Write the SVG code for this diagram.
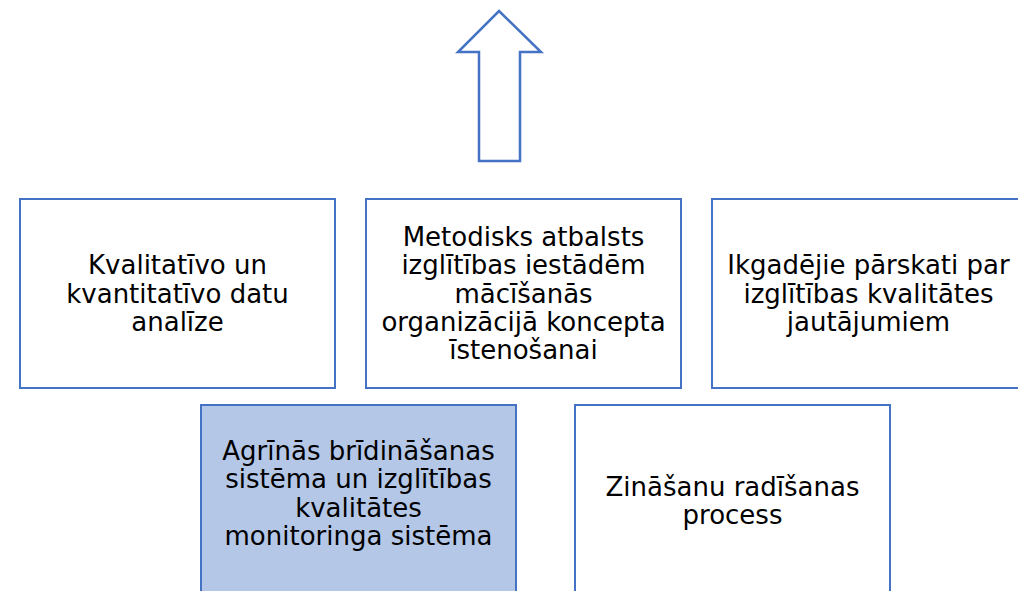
<svg xmlns="http://www.w3.org/2000/svg" width="1018" height="591" viewBox="0 0 1018 591">
<style>
.box{fill:#ffffff;stroke:#4472C4;stroke-width:2}
.hl{fill:#B4C7E7}
.t{font-family:"DejaVu Sans",Verdana,sans-serif;font-size:26px;fill:#000;text-anchor:middle}
</style>
<rect width="1018" height="591" fill="#ffffff"/>
<g id="connectors">
<polygon points="499,11 541,52 520,52 520,161 479,161 479,52 458,52" fill="#ffffff" stroke="#4472C4" stroke-width="2.5" stroke-linejoin="miter"/>
</g>
<g id="n1">
<rect class="box" x="20" y="199" width="315" height="189"/>
<text class="t" x="177.5" y="274">Kvalitatīvo un</text>
<text class="t" x="177.5" y="302.5">kvantitatīvo datu</text>
<text class="t" x="177.5" y="331">analīze</text>
</g>
<g id="n2">
<rect class="box" x="366" y="199" width="315" height="189"/>
<text class="t" x="523.5" y="246">Metodisks atbalsts</text>
<text class="t" x="523.5" y="274">izglītības iestādēm</text>
<text class="t" x="523.5" y="302.5">mācīšanās</text>
<text class="t" x="523.5" y="331">organizācijā koncepta</text>
<text class="t" x="523.5" y="359">īstenošanai</text>
</g>
<g id="n3">
<rect class="box" x="712" y="199" width="315" height="189"/>
<text class="t" x="868.5" y="274">Ikgadējie pārskati par</text>
<text class="t" x="868.5" y="302.5">izglītības kvalitātes</text>
<text class="t" x="868.5" y="331">jautājumiem</text>
</g>
<g id="n4">
<rect class="box hl" x="201" y="405" width="315" height="189"/>
<text class="t" x="358.5" y="460">Agrīnās brīdināšanas</text>
<text class="t" x="358.5" y="488">sistēma un izglītības</text>
<text class="t" x="358.5" y="516.5">kvalitātes</text>
<text class="t" x="358.5" y="545">monitoringa sistēma</text>
</g>
<g id="n5">
<rect class="box" x="575" y="405" width="315" height="189"/>
<text class="t" x="732.5" y="496">Zināšanu radīšanas</text>
<text class="t" x="732.5" y="524">process</text>
</g>
</svg>
